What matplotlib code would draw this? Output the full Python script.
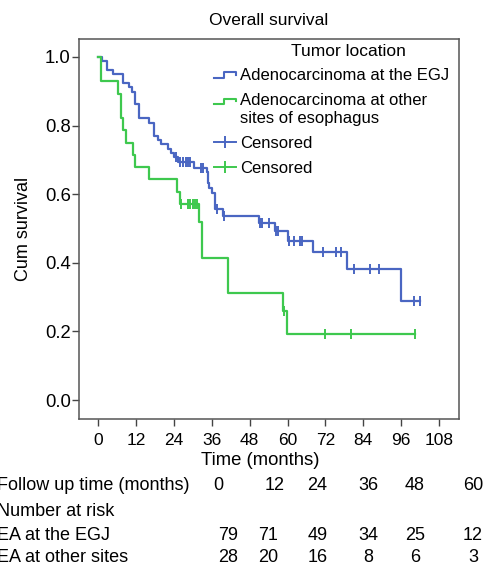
import numpy as np
import matplotlib
matplotlib.use("Agg")
import matplotlib.pyplot as plt
from matplotlib.lines import Line2D
from matplotlib.legend_handler import HandlerBase

plt.rcParams["font.family"] = ["Liberation Sans", "DejaVu Sans"]

# Kaplan-Meier steps (months, survival after the drop)
egj_times = [1.3, 2.9, 4.8, 7.9, 9.8, 10.8, 11.8, 13.0, 16.2, 17.6, 18.9, 19.8,
             22.0, 23.0, 24.1, 25.3, 30.2, 34.3, 34.8, 35.2, 36.1, 37.0, 39.6,
             51.0, 56.0, 60.2, 67.9, 78.9, 95.9]
egj_surv = [0.987, 0.962, 0.949, 0.924, 0.911, 0.899, 0.862, 0.821, 0.808, 0.770,
            0.758, 0.745, 0.732, 0.721, 0.709, 0.693, 0.677, 0.664, 0.632, 0.617,
            0.603, 0.556, 0.536, 0.515, 0.493, 0.464, 0.432, 0.382, 0.289]
egj_censor = [24.5, 25.9, 26.9, 27.7, 28.3, 29.1, 32.5, 33.3, 37.7, 39.8, 51.4,
              52.0, 54.2, 56.3, 57.0, 60.4, 62.1, 63.9, 64.7, 71.1, 75.2, 76.9,
              81.1, 86.1, 89.1, 100.0, 101.9]

oth_times = [0.8, 6.1, 7.2, 7.9, 8.8, 11.1, 11.8, 16.0, 25.1, 25.9, 31.9, 32.9,
             41.2, 58.6, 59.9]
oth_surv = [0.929, 0.893, 0.821, 0.786, 0.750, 0.714, 0.679, 0.643, 0.607, 0.571,
            0.519, 0.415, 0.311, 0.259, 0.194]
oth_censor = [26.2, 28.3, 29.1, 29.9, 30.7, 31.4, 58.9, 72.0, 80.0, 100.3]

# number at risk table
risk_times = [0, 12, 24, 36, 48, 60]
risk_egj = [79, 71, 49, 34, 25, 12]
risk_oth = [28, 20, 16, 8, 6, 3]

BLUE = "#4a66c2"
GREEN = "#3ec84e"
W, H = 484, 571


def step_xy(times, surv, censor):
    t = np.concatenate([[0.0], times, [max(censor)]])
    s = np.concatenate([[1.0], surv, [surv[-1]]])
    return t, s


def censor_y(times, surv, censor):
    idx = np.searchsorted(times, censor, side="right")
    s = np.concatenate([[1.0], surv])
    return s[idx]


class StepHandler(HandlerBase):
    def __init__(self, dy=0.0, **kw):
        super().__init__(**kw)
        self.dy = dy

    def create_artists(self, legend, orig_handle, xdescent, ydescent,
                       width, height, fontsize, trans):
        x0 = -xdescent
        x1 = x0 + width
        xm = x0 + width * 0.45
        y0 = -ydescent + height * 0.2 + self.dy
        y1 = -ydescent + height * 0.65 + self.dy
        line = Line2D([x0, xm, xm, x1, x1],
                      [y0, y0, y1, y1, y1 - (y1 - y0) * 0.45],
                      color=orig_handle.get_color(), lw=1.5, transform=trans)
        return [line]


fig = plt.figure(figsize=(W / 100, H / 100), dpi=100)
ax = fig.add_axes([79 / W, 1 - 419 / H, 380 / W, 380 / H])

for times, surv, cens, col in [(egj_times, egj_surv, egj_censor, BLUE),
                               (oth_times, oth_surv, oth_censor, GREEN)]:
    t, s = step_xy(times, surv, cens)
    ax.step(t, s, where="post", color=col, lw=1.6)
    ax.plot(cens, censor_y(np.array(times), np.array(surv), cens), ls="none",
            marker="|", ms=7, mew=1.4, color=col)

ax.set_xlim(-6.1, 114.3)
ax.set_ylim(-0.055, 1.052)
ax.set_xticks(np.arange(0, 109, 12))
ax.set_yticks(np.arange(0, 1.01, 0.2))
ax.set_yticklabels([f"{v:.1f}" for v in np.arange(0, 1.01, 0.2)])
ax.tick_params(labelsize=12.5, length=5, width=1, color="#444444", pad=1)
ax.tick_params(axis="y", labelsize=13.3)
ax.tick_params(axis="x", pad=5)
for sp in ax.spines.values():
    sp.set_color("#555555")
    sp.set_linewidth(1.1)

ax.set_xlabel("Time (months)", fontsize=13.3, va="center")
ax.xaxis.set_label_coords(0.478, -0.108)
ax.set_ylabel("Cum survival", fontsize=13, labelpad=9)
ax.set_title("Overall survival", fontsize=12.5, pad=10)

h1 = Line2D([], [], color=BLUE)
h2 = Line2D([], [], color=GREEN)
h3 = Line2D([], [], color=BLUE, lw=1.4, marker="|", ms=8, mew=1.4)
h4 = Line2D([], [], color=GREEN, lw=1.4, marker="|", ms=8, mew=1.4)
leg = fig.legend([h1, h2, h3, h4],
                 ["Adenocarcinoma at the EGJ",
                  "Adenocarcinoma at other\nsites of esophagus",
                  "Censored", "Censored"],
                 loc="upper right", bbox_to_anchor=(449 / W, 1 - 68 / H),
                 frameon=False, fontsize=12, handlelength=1.3,
                 handletextpad=0.25, labelspacing=0.58, borderpad=0,
                 borderaxespad=0,
                 handler_map={h1: StepHandler(), h2: StepHandler(dy=6.5)})
for txt in leg.get_texts():
    txt.set_linespacing(1.3)
fig.text(348 / W, 1 - 52 / H, "Tumor location", fontsize=12.5,
         ha="center", va="center")

# number at risk table below the axes
fs = 13
rows = [("Follow up time (months)", risk_times, 485,
         [218, 275, 317, 368, 415, 473]),
        ("Number at risk", None, 511, None),
        ("EA at the EGJ", risk_egj, 535, [228, 268, 318, 368, 415, 473]),
        ("EA at other sites", risk_oth, 558, [228, 268, 318, 368, 415, 473])]
for label, vals, y, xs in rows:
    fig.text(-3 / W, 1 - y / H, label, fontsize=fs, ha="left", va="center")
    if vals is not None:
        for v, x in zip(vals, xs):
            fig.text(x / W, 1 - y / H, str(v), fontsize=fs, ha="center",
                     va="center")

fig.savefig("out.png", dpi=100)
